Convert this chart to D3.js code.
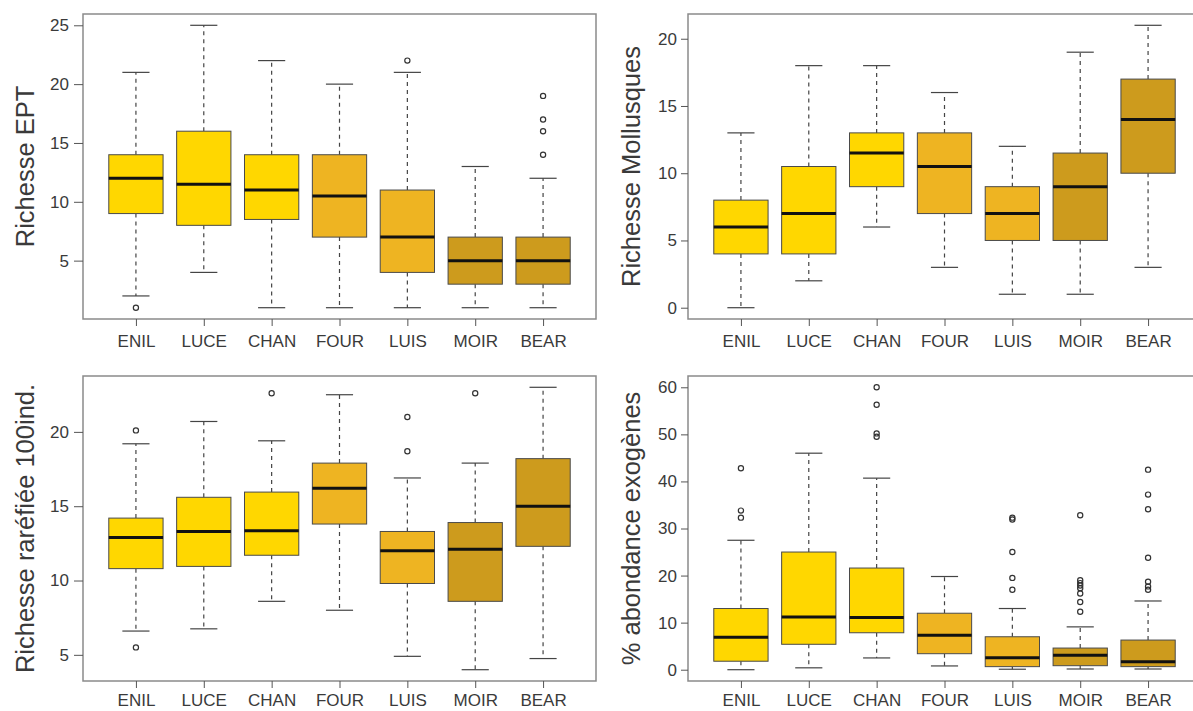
<!DOCTYPE html>
<html>
<head>
<meta charset="utf-8">
<script src="https://cdn.jsdelivr.net/npm/d3@7"></script>
<style>
  html, body { margin: 0; padding: 0; background: #ffffff; }
  svg { display: block; font-family: "Liberation Sans", Arial, sans-serif; }
</style>
</head>
<body>
<svg id="chart" width="1193" height="711"></svg>
<script>
// ---------- DATA ----------
const categories = ["ENIL", "LUCE", "CHAN", "FOUR", "LUIS", "MOIR", "BEAR"];
const boxColors = ["#FFD700", "#FFD700", "#FFD700", "#EEB422", "#EEB422", "#CD9B1D", "#CD9B1D"];

// stats per category: [lower whisker, Q1, median, Q3, upper whisker]
const eptStats = [
  [2, 9, 12, 14, 21],
  [4, 8, 11.5, 16, 25],
  [1, 8.5, 11, 14, 22],
  [1, 7, 10.5, 14, 20],
  [1, 4, 7, 11, 21],
  [1, 3, 5, 7, 13],
  [1, 3, 5, 7, 12]
];
const eptOutliers = [[1], [], [], [], [22], [], [19, 17, 16, 14]];
const eptTicks = [5, 10, 15, 20, 25];

const molStats = [
  [0, 4, 6, 8, 13],
  [2, 4, 7, 10.5, 18],
  [6, 9, 11.5, 13, 18],
  [3, 7, 10.5, 13, 16],
  [1, 5, 7, 9, 12],
  [1, 5, 9, 11.5, 19],
  [3, 10, 14, 17, 21]
];
const molOutliers = [[], [], [], [], [], [], []];
const molTicks = [0, 5, 10, 15, 20];

const rarStats = [
  [6.6, 10.8, 12.9, 14.2, 19.2],
  [6.75, 10.95, 13.3, 15.6, 20.7],
  [8.6, 11.7, 13.35, 15.95, 19.4],
  [8.0, 13.8, 16.2, 17.9, 22.5],
  [4.9, 9.8, 12.0, 13.3, 16.9],
  [4.0, 8.6, 12.1, 13.9, 17.9],
  [4.75, 12.3, 15.0, 18.2, 23.0]
];
const rarOutliers = [[20.1, 5.5], [], [22.6], [], [21.0, 18.7], [22.6], []];
const rarTicks = [5, 10, 15, 20];

const exoStats = [
  [0, 1.8, 6.9, 13.0, 27.5],
  [0.4, 5.4, 11.2, 25.0, 46.0],
  [2.5, 7.85, 11.1, 21.6, 40.7],
  [0.8, 3.4, 7.3, 12.0, 19.8],
  [0.1, 0.65, 2.55, 7.0, 13.0],
  [0.15, 0.85, 3.05, 4.6, 9.1],
  [0.15, 0.65, 1.7, 6.3, 14.6]
];
const exoOutliers = [
  [42.8, 33.8, 32.3],
  [],
  [60.0, 56.3, 50.2, 49.5],
  [],
  [32.3, 31.9, 25.0, 19.5, 17.0],
  [32.8, 19.0, 18.4, 17.9, 17.3, 16.2, 14.4, 12.3],
  [42.5, 37.2, 34.1, 23.8, 18.7, 17.7, 17.0]
];
const exoTicks = [0, 10, 20, 30, 40, 50, 60];

const yLabels = ["Richesse EPT", "Richesse Mollusques", "Richesse raréfiée 100ind.", "% abondance exogènes"];

// ---------- LAYOUT ----------
const panels = [
  { stats: eptStats, outs: eptOutliers, ticks: eptTicks, label: yLabels[0],
    x0: 83, x1: 596, y0: 14, y1: 319, labelX: 25, tickSize: 9, tickPad: 5, xPad: 9 },
  { stats: molStats, outs: molOutliers, ticks: molTicks, label: yLabels[1],
    x0: 688, x1: 1201, y0: 14, y1: 319, labelX: 631, tickSize: 7, tickPad: 4, xPad: 9 },
  { stats: rarStats, outs: rarOutliers, ticks: rarTicks, label: yLabels[2],
    x0: 83, x1: 596, y0: 376, y1: 681, labelX: 25, tickSize: 9, tickPad: 5, xPad: 6 },
  { stats: exoStats, outs: exoOutliers, ticks: exoTicks, label: yLabels[3],
    x0: 688, x1: 1201, y0: 376, y1: 681, labelX: 631, tickSize: 7, tickPad: 4, xPad: 6 }
];

const svg = d3.select("#chart");
const textColor = "#3a3a3a";

panels.forEach(p => {
  const g = svg.append("g");
  const n = categories.length;
  // R-like axis extension (4%)
  const x = d3.scaleLinear().domain([0.5 - 0.04 * n, n + 0.5 + 0.04 * n]).range([p.x0, p.x1]);
  const allVals = p.stats.flat().concat(p.outs.flat());
  const [mn, mx] = d3.extent(allVals);
  const pad = (mx - mn) * 0.04;
  const y = d3.scaleLinear().domain([mn - pad, mx + pad]).range([p.y1, p.y0]);
  const bw = 0.4; // half box width (boxwex 0.8)
  const cw = 0.2; // half staple width

  p.stats.forEach((s, i) => {
    const c = i + 1;
    const [lo, q1, med, q3, hi] = s;
    // whiskers (dashed)
    g.append("line").attr("x1", x(c)).attr("x2", x(c)).attr("y1", y(q3)).attr("y2", y(hi))
      .attr("stroke", "#444").attr("stroke-width", 1.2).attr("stroke-dasharray", "4,4");
    g.append("line").attr("x1", x(c)).attr("x2", x(c)).attr("y1", y(q1)).attr("y2", y(lo))
      .attr("stroke", "#444").attr("stroke-width", 1.2).attr("stroke-dasharray", "4,4");
    // staples
    g.append("line").attr("x1", x(c - cw)).attr("x2", x(c + cw)).attr("y1", y(hi)).attr("y2", y(hi))
      .attr("stroke", "#444").attr("stroke-width", 1.2);
    g.append("line").attr("x1", x(c - cw)).attr("x2", x(c + cw)).attr("y1", y(lo)).attr("y2", y(lo))
      .attr("stroke", "#444").attr("stroke-width", 1.2);
    // box
    g.append("rect").attr("x", x(c - bw)).attr("y", y(q3))
      .attr("width", x(c + bw) - x(c - bw)).attr("height", y(q1) - y(q3))
      .attr("fill", boxColors[i]).attr("stroke", "#4a4a4a").attr("stroke-width", 1);
    // median
    g.append("line").attr("x1", x(c - bw)).attr("x2", x(c + bw)).attr("y1", y(med)).attr("y2", y(med))
      .attr("stroke", "#111").attr("stroke-width", 3);
    // outliers
    p.outs[i].forEach(v => {
      g.append("circle").attr("cx", x(c)).attr("cy", y(v)).attr("r", 2.6)
        .attr("fill", "none").attr("stroke", "#333").attr("stroke-width", 1.2);
    });
  });

  // frame
  g.append("rect").attr("x", p.x0).attr("y", p.y0).attr("width", p.x1 - p.x0).attr("height", p.y1 - p.y0)
    .attr("fill", "none").attr("stroke", "#8a8a8a").attr("stroke-width", 1.5);

  // y axis
  const ya = g.append("g").attr("transform", `translate(${p.x0},0)`)
    .call(d3.axisLeft(y).tickValues(p.ticks).tickSize(p.tickSize).tickPadding(p.tickPad).tickFormat(d3.format("d")));
  ya.select(".domain").remove();
  ya.selectAll("line").attr("stroke", "#555");
  ya.selectAll("text").attr("font-size", 17).attr("fill", textColor)
    .attr("font-family", "'Liberation Sans', Arial, sans-serif");

  // x axis
  const xa = g.append("g").attr("transform", `translate(0,${p.y1})`)
    .call(d3.axisBottom(x).tickValues(d3.range(1, n + 1)).tickSize(7).tickPadding(p.xPad)
      .tickFormat(d => categories[d - 1]));
  xa.select(".domain").remove();
  xa.selectAll("line").attr("stroke", "#555");
  xa.selectAll("text").attr("font-size", 17).attr("fill", textColor)
    .attr("font-family", "'Liberation Sans', Arial, sans-serif");

  // y label
  const cy = (p.y0 + p.y1) / 2;
  g.append("text").attr("transform", `translate(${p.labelX},${cy}) rotate(-90)`)
    .attr("text-anchor", "middle").attr("dy", "0.35em")
    .attr("font-size", 25.5).attr("fill", textColor)
    .text(p.label);
});
</script>
</body>
</html>
